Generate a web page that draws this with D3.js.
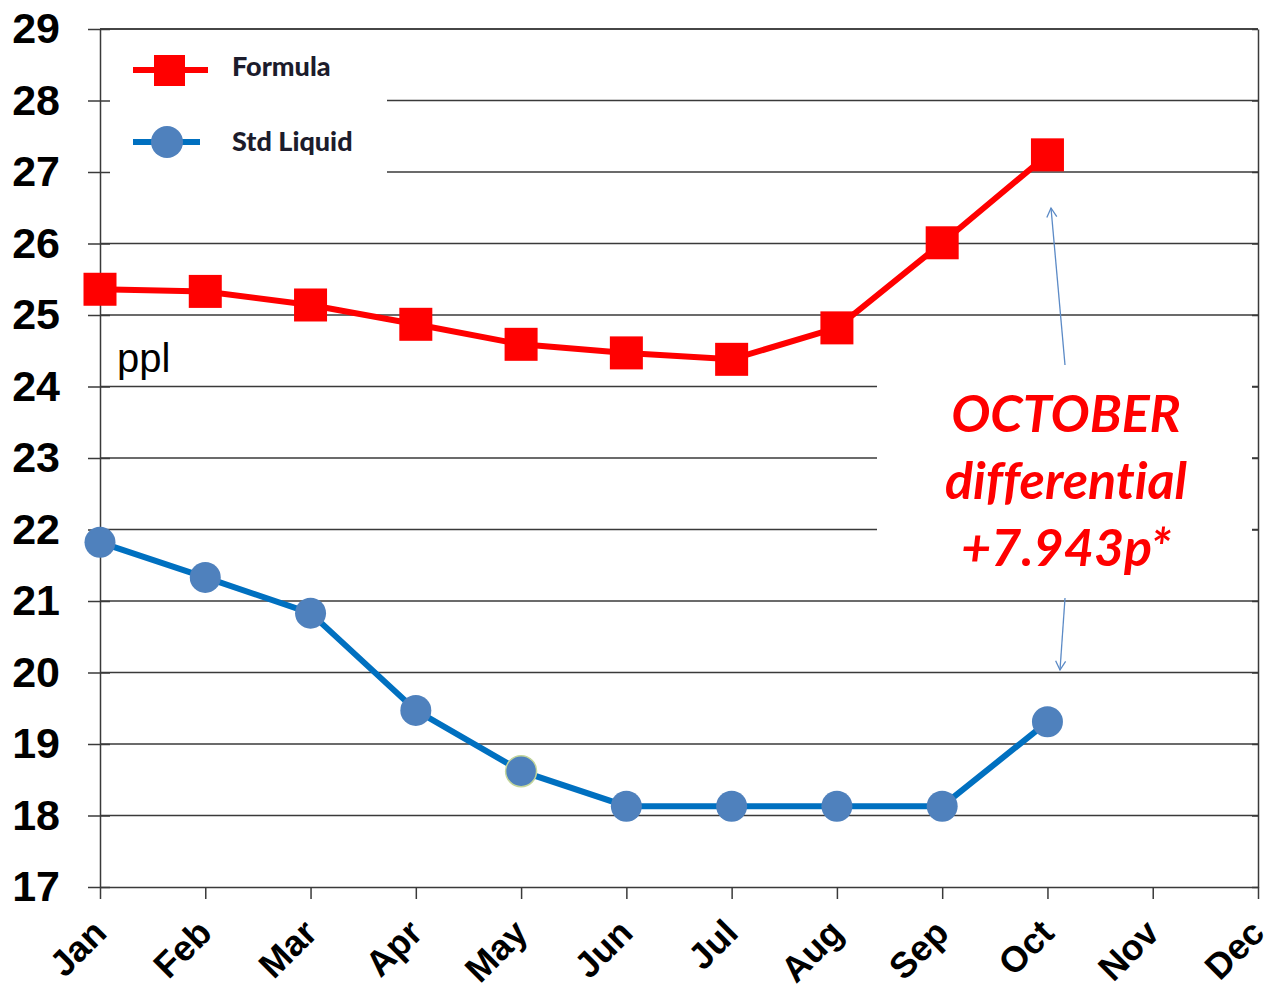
<!DOCTYPE html>
<html>
<head>
<meta charset="utf-8">
<script src="https://cdn.jsdelivr.net/npm/d3@7/dist/d3.min.js"></script>
<style>
  body { margin: 0; background: #fff; }
</style>
</head>
<body>
<svg id="chart" width="1275" height="990"></svg>
<script>
// values
const months = ["Jan", "Feb", "Mar", "Apr", "May", "Jun", "Jul", "Aug", "Sep", "Oct", "Nov", "Dec"];
const formula = [25.36, 25.33, 25.14, 24.87, 24.59, 24.47, 24.38, 24.82, 26.01, 27.24];
const stdLiquid = [21.82, 21.33, 20.83, 19.47, 18.62, 18.13, 18.13, 18.13, 18.13, 19.31];
const yTicks = [17, 18, 19, 20, 21, 22, 23, 24, 25, 26, 27, 28, 29];
const seriesNames = ["Formula", "Std Liquid"];
const noteLines = ["OCTOBER", "differential", "+7.943p*"];

const svg = d3.select("#chart");
const plotLeft = 100, plotRight = 1258, plotTop = 29, plotBottom = 887;
const axisColor = "#3a3a3a";

const x = d3.scalePoint().domain(months).range([plotLeft, plotRight]);
const y = d3.scaleLinear().domain([17, 29]).range([plotBottom, plotTop]);

// gridlines
svg.append("g")
  .selectAll("line")
  .data(yTicks.filter(d => d > 17))
  .join("line")
  .attr("x1", plotLeft).attr("x2", plotRight)
  .attr("y1", d => y(d)).attr("y2", d => y(d))
  .attr("stroke", axisColor)
  .attr("stroke-width", 1.5);

// white boxes behind legend and note
svg.append("rect").attr("x", plotLeft + 1).attr("y", plotTop + 1)
  .attr("width", 286).attr("height", 170).attr("fill", "#fff");
svg.append("rect").attr("x", 877).attr("y", 345)
  .attr("width", 375).attr("height", 235).attr("fill", "#fff");

// right border with inward ticks
svg.append("g")
  .attr("transform", `translate(${plotRight},0)`)
  .call(d3.axisRight(y).tickValues(yTicks).tickSize(-6).tickSizeOuter(0).tickFormat(""))
  .call(g => g.selectAll("path,line").attr("stroke", axisColor).attr("stroke-width", 1.5));

// top border
svg.append("line").attr("x1", plotLeft).attr("x2", plotRight)
  .attr("y1", plotTop).attr("y2", plotTop)
  .attr("stroke", axisColor).attr("stroke-width", 1.5);

// left axis, ticks cross the axis line
svg.append("g")
  .attr("transform", `translate(${plotLeft},0)`)
  .call(d3.axisLeft(y).tickValues(yTicks).tickSize(12).tickSizeOuter(0).tickPadding(28))
  .call(g => g.selectAll("path,line").attr("stroke", axisColor).attr("stroke-width", 1.5))
  .call(g => g.selectAll(".tick line").attr("x1", 10))
  .call(g => g.selectAll("text")
    .attr("font-family", "'Liberation Sans', Arial, sans-serif")
    .attr("font-weight", "bold")
    .attr("font-size", 43)
    .attr("fill", "#000"));

// bottom axis
svg.append("g")
  .attr("transform", `translate(0,${plotBottom})`)
  .call(d3.axisBottom(x).tickSize(12).tickSizeOuter(0))
  .call(g => g.selectAll("path,line").attr("stroke", axisColor).attr("stroke-width", 1.5))
  .call(g => g.selectAll("text")
    .attr("font-family", "'Liberation Sans', Arial, sans-serif")
    .attr("font-weight", "bold")
    .attr("font-size", 36)
    .attr("fill", "#000")
    .attr("text-anchor", "end")
    .attr("y", 0)
    .attr("dy", 0)
    .attr("transform", "translate(8,48) rotate(-45)"));

const line = d3.line()
  .x((d, i) => x(months[i]))
  .y(d => y(d));

// Formula series
svg.append("path")
  .datum(formula)
  .attr("d", line)
  .attr("fill", "none")
  .attr("stroke", "#ff0000")
  .attr("stroke-width", 6);

svg.append("g")
  .selectAll("rect")
  .data(formula)
  .join("rect")
  .attr("x", (d, i) => x(months[i]) - 16.5)
  .attr("y", d => y(d) - 16.5)
  .attr("width", 33)
  .attr("height", 33)
  .attr("fill", "#ff0000");

// Std Liquid series
svg.append("path")
  .datum(stdLiquid)
  .attr("d", line)
  .attr("fill", "none")
  .attr("stroke", "#0070c0")
  .attr("stroke-width", 6);

svg.append("g")
  .selectAll("circle")
  .data(stdLiquid)
  .join("circle")
  .attr("cx", (d, i) => x(months[i]))
  .attr("cy", d => y(d))
  .attr("r", 15.5)
  .attr("fill", "#4f81bd")
  .attr("stroke", (d, i) => months[i] === "May" ? "#c3d69b" : "none")
  .attr("stroke-width", 1.5);

// legend
const legend = svg.append("g").attr("font-family", "Lato, 'Open Sans', sans-serif");
legend.append("line").attr("x1", 133).attr("x2", 208).attr("y1", 70).attr("y2", 70)
  .attr("stroke", "#ff0000").attr("stroke-width", 6);
legend.append("rect").attr("x", 154).attr("y", 55).attr("width", 31).attr("height", 31)
  .attr("fill", "#ff0000");
legend.append("line").attr("x1", 133).attr("x2", 200).attr("y1", 142).attr("y2", 142)
  .attr("stroke", "#0070c0").attr("stroke-width", 6);
legend.append("circle").attr("cx", 167).attr("cy", 142).attr("r", 16)
  .attr("fill", "#4f81bd");
legend.selectAll("text")
  .data(seriesNames)
  .join("text")
  .attr("x", 232)
  .attr("y", (d, i) => 76 + i * 75)
  .attr("font-size", 27)
  .attr("font-weight", "900")
  .attr("fill", "#1c1c2c")
  .text(d => d);

// unit label
svg.append("text")
  .attr("x", 117).attr("y", 372)
  .attr("font-family", "'Liberation Sans', Arial, sans-serif")
  .attr("font-size", 40)
  .attr("fill", "#000")
  .text("ppl");

// note
svg.append("g")
  .selectAll("text")
  .data(noteLines)
  .join("text")
  .attr("x", 1066)
  .attr("y", (d, i) => 432 + i * 67)
  .attr("text-anchor", "middle")
  .attr("font-family", "Lato, 'Open Sans', sans-serif")
  .attr("font-style", "italic")
  .attr("font-weight", "bold")
  .attr("font-size", 52)
  .style("font-variant-ligatures", "none")
  .attr("fill", "#ff0000")
  .text(d => d);

// arrows
const defs = svg.append("defs");
defs.append("marker")
  .attr("id", "open")
  .attr("viewBox", "-10 -6 12 12")
  .attr("refX", 0).attr("refY", 0)
  .attr("markerWidth", 12).attr("markerHeight", 12)
  .attr("markerUnits", "userSpaceOnUse")
  .attr("orient", "auto")
  .append("path")
  .attr("d", "M-9,-5L0,0L-9,5")
  .attr("fill", "none")
  .attr("stroke", "#5b8ac6")
  .attr("stroke-width", 1.3);

const arrows = [
  { x1: 1065, y1: 365, x2: 1051, y2: 208 },
  { x1: 1065, y1: 598, x2: 1060, y2: 670 }
];
svg.append("g")
  .selectAll("line")
  .data(arrows)
  .join("line")
  .attr("x1", d => d.x1).attr("y1", d => d.y1)
  .attr("x2", d => d.x2).attr("y2", d => d.y2)
  .attr("stroke", "#5b8ac6")
  .attr("stroke-width", 1.3)
  .attr("marker-end", "url(#open)");
</script>
</body>
</html>
